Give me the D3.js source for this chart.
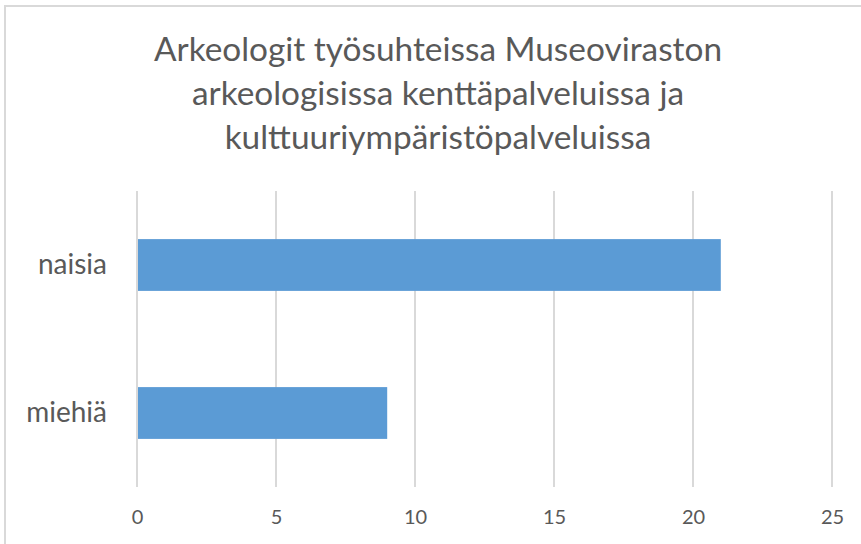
<!DOCTYPE html>
<html>
<head>
<meta charset="utf-8">
<script src="https://cdn.jsdelivr.net/npm/d3@7"></script>
<style>
  html, body { margin: 0; padding: 0; background: #fff; overflow: hidden; }
  svg { display: block; }
  text { font-family: Lato, "Open Sans", sans-serif; fill: #595959; }
</style>
</head>
<body>
<div id="chart"></div>
<script>
const titleLines = [
  "Arkeologit työsuhteissa Museoviraston",
  "arkeologisissa kenttäpalveluissa ja",
  "kulttuuriympäristöpalveluissa"
];
const categories = ["naisia", "miehiä"];
const values = [21, 9];
const xTicks = [0, 5, 10, 15, 20, 25];

const W = 861, H = 544;
const margin = { left: 137, right: 29, top: 191, bottom: 57 };

const svg = d3.select("#chart").append("svg")
  .attr("width", W).attr("height", H);

svg.append("rect")
  .attr("x", 5).attr("y", 6)
  .attr("width", 900).attr("height", 600)
  .attr("fill", "#fff")
  .attr("stroke", "#d9d9d9").attr("stroke-width", 2);

const x = d3.scaleLinear().domain([0, 25]).range([margin.left, W - margin.right]);
const y = d3.scaleBand().domain(categories)
  .range([margin.top, H - margin.bottom])
  .paddingInner(0.65).paddingOuter(0.325);

// title
svg.append("text")
  .attr("x", 438).attr("y", 61)
  .attr("text-anchor", "middle")
  .style("font-size", "33.4px")
  .selectAll("tspan").data(titleLines).join("tspan")
  .attr("x", 438)
  .attr("dy", (d, i) => i === 0 ? 0 : 44)
  .text(d => d);

// gridlines
svg.append("g")
  .selectAll("line").data(xTicks).join("line")
  .attr("x1", d => x(d)).attr("x2", d => x(d))
  .attr("y1", margin.top).attr("y2", H - margin.bottom)
  .attr("stroke", "#d9d9d9").attr("stroke-width", 2);

// bars
svg.append("g")
  .selectAll("rect").data(categories).join("rect")
  .attr("x", x(0) + 1)
  .attr("y", d => y(d))
  .attr("width", (d, i) => x(values[i]) - x(0) - 1)
  .attr("height", y.bandwidth())
  .attr("fill", "#5b9bd5");

// x axis
const xAxis = d3.axisBottom(x).tickValues(xTicks).tickSize(0).tickPadding(23);
const gx = svg.append("g")
  .attr("transform", `translate(0,${H - margin.bottom})`)
  .call(xAxis);
gx.select(".domain").remove();
gx.selectAll("text").style("font-size", "20px").attr("fill", "#595959");

// y axis
const yAxis = d3.axisLeft(y).tickSize(0).tickPadding(30);
const gy = svg.append("g")
  .attr("transform", `translate(${margin.left},0)`)
  .call(yAxis);
gy.select(".domain").remove();
gy.selectAll("text").style("font-size", "28px").attr("fill", "#595959");
</script>
</body>
</html>
